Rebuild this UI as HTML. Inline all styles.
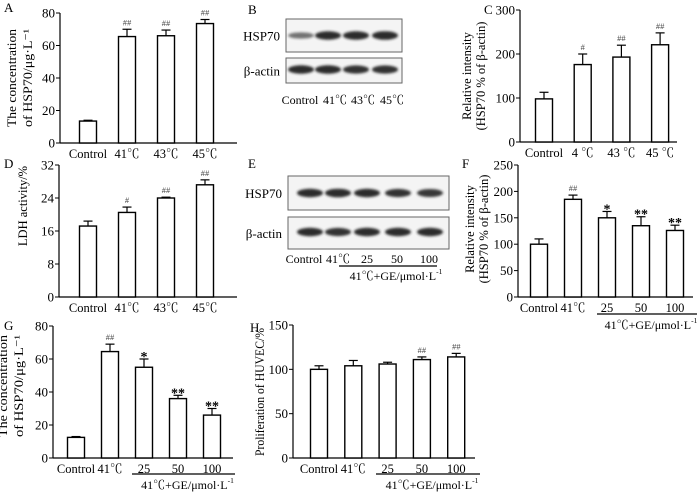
<!DOCTYPE html>
<html><head><meta charset="utf-8">
<style>
body{margin:0;background:#fff;}
svg{display:block;font-family:"Liberation Serif","Noto Serif CJK SC",serif;}
</style></head>
<body>
<svg id="fig" width="700" height="494" viewBox="0 0 700 494">
<defs><filter id="blur" x="-20%" y="-100%" width="140%" height="300%"><feGaussianBlur stdDeviation="1.3"/></filter></defs>
</svg>
<script>
// ---- data arrays ----
const catsA = ["Control","41℃","43℃","45℃"];
const valsA = [13.5, 65.5, 66, 73.5];
const errA = [14, 70, 69.5, 76];
const sigA = ["", "##", "##", "##"];
const ticksA = [0,20,40,60,80];

const catsC = ["Control","4 ℃","43 ℃","45 ℃"];
const valsC = [98, 176, 193, 221];
const errC = [113, 200, 220, 248];
const sigC = ["", "#", "##", "##"];
const ticksC = [0,100,200,300];

const catsD = ["Control","41℃","43℃","45℃"];
const valsD = [17.2, 20.5, 24, 27.2];
const errD = [18.4, 21.8, 24.2, 28.4];
const sigD = ["", "#", "##", "##"];
const ticksD = [0,8,16,24,32];

const catsF = ["Control","41℃","25","50","100"];
const valsF = [100, 185, 150, 135, 126];
const errF = [110, 193, 162, 152, 136];
const sigF = ["", "##", "*", "**", "**"];
const ticksF = [0,50,100,150,200,250];

const catsG = ["Control","41℃","25","50","100"];
const valsG = [12.5, 64.5, 55, 36, 26];
const errG = [13, 69, 60, 38, 30];
const sigG = ["", "##", "*", "**", "**"];
const ticksG = [0,20,40,60,80];

const catsH = ["Control","41℃","25","50","100"];
const valsH = [100, 104, 106, 111, 114];
const errH = [104, 110, 108, 114, 118];
const sigH = ["", "", "", "##", "##"];
const ticksH = [0,50,100,150];

const NS = "http://www.w3.org/2000/svg";
const svg = document.getElementById("fig");
function mk(tag, attrs, parent, text){
  const e = document.createElementNS(NS, tag);
  for (const k in attrs) e.setAttribute(k, attrs[k]);
  if (text !== undefined) e.textContent = text;
  (parent||svg).appendChild(e);
  return e;
}

function chart(name, cfg, cats, vals, errs, sigs, ticks){
  const g = mk("g", {});
  
  
  const ymax = ticks[ticks.length-1];
  const y = v => cfg.y0 - (v/ymax)*(cfg.y0-cfg.yTop);
  const x = i => cfg.c0 + i*cfg.step;
  const ya = mk("line", {x1:cfg.x0,y1:cfg.yTop,x2:cfg.x0,y2:cfg.y0,stroke:"#000","stroke-width":1.2}, g);
  
  
  ticks.forEach(t => {
    mk("line",{x1:cfg.x0-4,y1:y(t),x2:cfg.x0,y2:y(t),stroke:"#000","stroke-width":1}, g);
    const tl = mk("text",{x:cfg.x0-5,y:y(t)+4.5,"text-anchor":"end","font-size":13}, g, t);
    
    
  });
  const xa = mk("line",{x1:cfg.x0,y1:cfg.y0,x2:cfg.xEnd,y2:cfg.y0,stroke:"#000","stroke-width":1.2}, g);
  
  
  const bw = 17;
  cats.forEach((c,i) => {
    const cx = x(i);
    mk("line",{x1:cx,y1:y(vals[i]),x2:cx,y2:y(errs[i]),stroke:"#000","stroke-width":1.2}, g);
    mk("line",{x1:cx-4.5,y1:y(errs[i]),x2:cx+4.5,y2:y(errs[i]),stroke:"#000","stroke-width":1.2}, g);
    const b = mk("rect",{x:cx-bw/2,y:y(vals[i]),width:bw,height:cfg.y0-y(vals[i]),fill:"#fff",stroke:"#000","stroke-width":1.4}, g);
    
    
    if (sigs[i]) {
      const star = sigs[i].indexOf("*")>=0;
      const s = mk("text",{x:cx,y:y(errs[i])-(star?-2:4),"text-anchor":"middle","font-size":star?14:8.5,"font-weight":star?"bold":"normal",fill:star?"#000":"#444"}, g, sigs[i]);
      
      
    }
    const l = mk("text",{x:cx,y:cfg.y0+15,"text-anchor":"middle","font-size":12.5}, g, c);
    
    
  });
  cfg.titles.forEach(tt => {
    const attrs = {x:tt[0],y:tt[1],"text-anchor":"middle","font-size":12.5,transform:"rotate(-90 "+tt[0]+" "+tt[1]+")"};
    if (tt[3]) { attrs.textLength = tt[3]; attrs.lengthAdjust = "spacingAndGlyphs"; }
    const t = mk("text",attrs, g, tt[2]);
    
    
  });
  if (cfg.group) {
    const gr = cfg.group;
    mk("line",{x1:gr[0],y1:gr[2],x2:gr[1],y2:gr[2],stroke:"#000","stroke-width":1.2}, g);
    const gt = mk("text",{x:(gr[0]+gr[1])/2+4,y:gr[2]+15,"text-anchor":"middle","font-size":12}, g, "41℃+GE/μmol·L");
    mk("tspan",{dy:-6,"font-size":7.5}, gt, "-1");
    
    
  }
}

chart("panel-a-chart", {x0:60,y0:143,yTop:13,xEnd:237,c0:88,step:39,
  titles:[[16,78,"The concentration",98],[32,78,"of HSP70/μg·L⁻¹",98]]}, catsA, valsA, errA, sigA, ticksA);
chart("panel-c-chart", {x0:520,y0:142,yTop:10,xEnd:677,c0:544,step:38.7,
  titles:[[471,76,"Relative intensity"],[485,76,"(HSP70 % of β-actin)"]]}, catsC, valsC, errC, sigC, ticksC);
chart("panel-d-chart", {x0:59,y0:297,yTop:165,xEnd:237,c0:88,step:39,
  titles:[[27,206,"LDH activity/%"]]}, catsD, valsD, errD, sigD, ticksD);
chart("panel-f-chart", {x0:518,y0:297,yTop:165,xEnd:693,c0:539,step:34,group:[597,697,314],
  titles:[[474,229,"Relative intensity"],[488,229,"(HSP70 % of β-actin)"]]}, catsF, valsF, errF, sigF, ticksF);
chart("panel-g-chart", {x0:53,y0:458,yTop:326,xEnd:233,c0:76,step:34,group:[132,235,474],
  titles:[[7,386,"The concentration",102],[23,386,"of HSP70/μg·L⁻¹",102]]}, catsG, valsG, errG, sigG, ticksG);
chart("panel-h-chart", {x0:293,y0:458,yTop:325,xEnd:475,c0:319,step:34.3,group:[376,480,474],
  titles:[[264,392,"Proliferation of HUVEC/%",128]]}, catsH, valsH, errH, sigH, ticksH);

// ---- blots ----
const bandsB_hsp = [0.45, 1, 1, 1.05];
const bandsB_act = [1, 1, 0.95, 0.95];
const bandsE_hsp = [1, 1.05, 1, 0.95, 0.9];
const bandsE_act = [1, 0.95, 1, 1, 1];
function blot(name, bx, bw, boxes, centers, rows, labels, labelY){
  const g = mk("g",{});
  
  
  boxes.forEach((bb, r) => {
    mk("rect",{x:bx,y:bb[0],width:bw,height:bb[1]-bb[0],fill:"#f4f4f4",stroke:"#666","stroke-width":1}, g);
    const t = mk("text",{x:bx-6,y:(bb[0]+bb[1])/2+5,"text-anchor":"end","font-size":13}, g, r===0?"HSP70":"β-actin");
    
    
    const cy = (bb[0]+bb[1])/2 + (r===0?0:-1);
    rows[r].forEach((v,i) => {
      const e = mk("ellipse",{cx:centers[i],cy:cy,rx:13,ry:2.2+2*v,fill:"#222","opacity":0.35+0.6*Math.min(v,1),filter:"url(#blur)"}, g);
      
      
    });
  });
  labels.forEach(l => {
    const t = mk("text",{x:l[0],y:labelY,"text-anchor":"middle","font-size":12}, g, l[1]);
    
    
  });
}
blot("panel-b-blot", 286, 116, [[19,52],[58,83]], [301,328,356,385], [bandsB_hsp, bandsB_act],
  [[300,"Control"],[335,"41℃"],[363,"43℃"],[392,"45℃"]], 104);
blot("panel-e-blot", 288, 161, [[176,210],[217,249]], [310,338,367,398,430], [bandsE_hsp, bandsE_act],
  [[304,"Control"],[338,"41℃"],[367,"25"],[397,"50"],[429,"100"]], 263);
mk("line",{x1:339,y1:266,x2:437,y2:266,stroke:"#000","stroke-width":1.2});
const eg = mk("text",{x:396,y:280,"text-anchor":"middle","font-size":12}, svg, "41℃+GE/μmol·L");
mk("tspan",{dy:-6,"font-size":7.5}, eg, "-1");



[["A",4,12],["B",248,14],["C",484,14],["D",4,168],["E",248,168],["F",462,168],["G",4,330],["H",250,332]].forEach(p => {
  const t = mk("text",{x:p[1],y:p[2],"font-size":13}, svg, p[0]);
  
  
});
</script>
</body></html>
